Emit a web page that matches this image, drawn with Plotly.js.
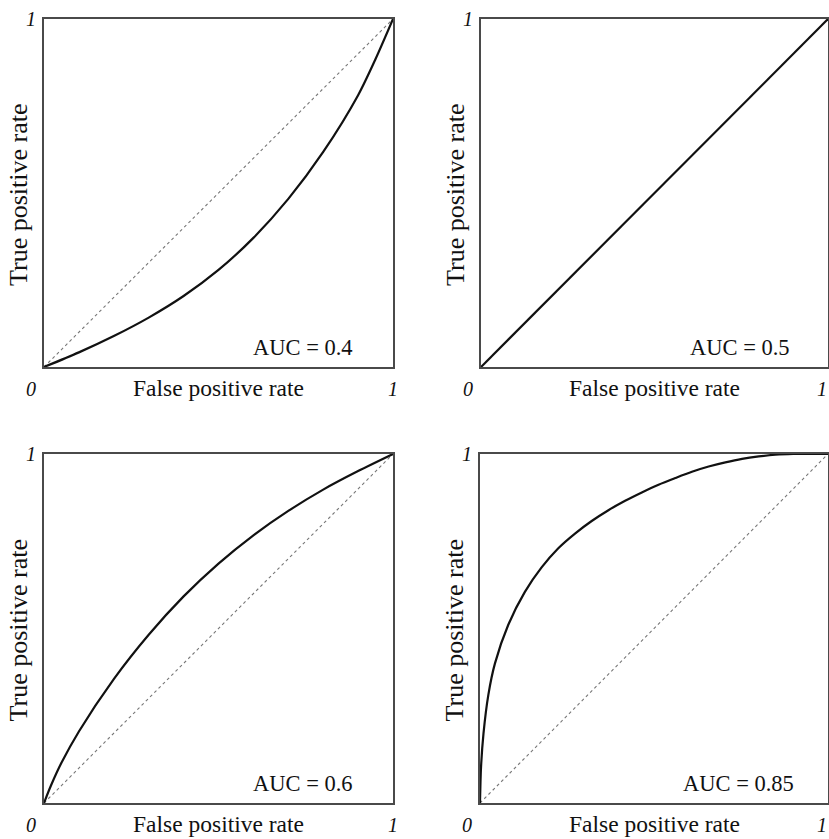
<!DOCTYPE html>
<html>
<head>
<meta charset="utf-8">
<script src="https://cdn.plot.ly/plotly-3.0.1.min.js"></script>
<style>html,body{margin:0;padding:0;background:#fff;}#chart{width:829px;height:839px;}</style>
</head>
<body>
<div id="chart"></div>
<script>
// ROC curve data
const fpr1 = [0, 0.1, 0.2, 0.3, 0.4, 0.5, 0.6, 0.7, 0.8, 0.9, 0.95, 1];
const tpr1 = [0, 0.042, 0.089, 0.142, 0.204, 0.279, 0.371, 0.483, 0.618, 0.781, 0.885, 1];

const fpr2 = [0, 1];
const tpr2 = [0, 1];

const fpr3 = [0, 0.02, 0.05, 0.1, 0.2, 0.3, 0.4, 0.5, 0.6, 0.7, 0.8, 0.9, 1];
const tpr3 = [0, 0.05, 0.115, 0.205, 0.355, 0.482, 0.592, 0.686, 0.767, 0.837, 0.898, 0.951, 1];

const fpr4 = [0, 0.003, 0.010, 0.024, 0.043, 0.081, 0.129, 0.177, 0.225, 0.273, 0.321, 0.369, 0.417, 0.465, 0.513, 0.561, 0.609, 0.657, 0.705, 0.753, 0.801, 0.849, 0.9, 1];
const tpr4 = [0, 0.103, 0.199, 0.310, 0.400, 0.510, 0.605, 0.675, 0.730, 0.772, 0.808, 0.839, 0.866, 0.890, 0.912, 0.931, 0.949, 0.964, 0.976, 0.986, 0.993, 0.998, 1.0, 1];

const chanceX = [0, 1];
const chanceY = [0, 1];

const aucLabels = ["AUC = 0.4", "AUC = 0.5", "AUC = 0.6", "AUC = 0.85"];
const xTitle = "False positive rate";
const yTitle = "True positive rate";
const tickLow = "0";
const tickHigh = "1";

const W = 829, H = 839;
const panels = [
  {x0: 44, x1: 393, y0: 19, y1: 367, aucX: 0.891},
  {x0: 481, x1: 828, y0: 19, y1: 367, aucX: 0.896},
  {x0: 44, x1: 393, y0: 454, y1: 803, aucX: 0.891},
  {x0: 480, x1: 828, y0: 454, y1: 803, aucX: 0.908}
];
const curves = [[fpr1, tpr1], [fpr2, tpr2], [fpr3, tpr3], [fpr4, tpr4]];

const serif = "Liberation Serif, Times New Roman, serif";
const traces = [];
const layout = {
  width: W, height: H,
  margin: {l: 0, r: 0, t: 0, b: 0},
  paper_bgcolor: "#fff", plot_bgcolor: "#fff",
  showlegend: false,
  annotations: []
};

panels.forEach((p, i) => {
  const n = i === 0 ? "" : String(i + 1);
  const xa = "x" + n, ya = "y" + n;
  const axCommon = {
    range: [0, 1], showgrid: false, zeroline: false, showticklabels: false,
    ticks: "", showline: true, mirror: true, linecolor: "#4a4a4a", linewidth: 1.6,
    fixedrange: true
  };
  layout["xaxis" + n] = Object.assign({}, axCommon, {domain: [p.x0 / W, p.x1 / W], anchor: ya});
  layout["yaxis" + n] = Object.assign({}, axCommon, {domain: [1 - p.y1 / H, 1 - p.y0 / H], anchor: xa});

  if (i !== 1) {
    traces.push({x: chanceX, y: chanceY, xaxis: xa, yaxis: ya, mode: "lines",
      line: {color: "#777", width: 1.1, dash: "dot"}, hoverinfo: "skip"});
  }
  traces.push({x: curves[i][0], y: curves[i][1], xaxis: xa, yaxis: ya, mode: "lines",
    line: {color: "#111", width: 2.2, shape: "spline", smoothing: 0.8}, hoverinfo: "skip"});

  const xr = xa + " domain", yr = ya + " domain";
  const tickFont = {family: serif, size: 20, color: "#111"};
  const rightEdge = p.x1 >= 820;
  layout.annotations.push(
    {xref: xr, yref: yr, x: 0, y: 1, text: "<i>" + tickHigh + "</i>", showarrow: false,
      xanchor: "right", yanchor: "middle", xshift: -6, yshift: 0, font: tickFont},
    {xref: xr, yref: yr, x: 0, y: 0, text: "<i>" + tickLow + "</i>", showarrow: false,
      xanchor: "right", yanchor: "middle", xshift: -6, yshift: -22, font: tickFont},
    {xref: xr, yref: yr, x: 1, y: 0, text: "<i>" + tickHigh + "</i>", showarrow: false,
      xanchor: rightEdge ? "right" : "center", yanchor: "middle", xshift: rightEdge ? 1 : 0, yshift: -22, font: tickFont},
    {xref: xr, yref: yr, x: 0.5, y: 0, text: xTitle, showarrow: false,
      xanchor: "center", yanchor: "middle", yshift: -21, font: {family: serif, size: 23.5, color: "#111"}},
    {xref: xr, yref: yr, x: 0, y: 0.5, text: yTitle, showarrow: false, textangle: -90,
      xanchor: "center", yanchor: "middle", xshift: -26, yshift: -2, font: {family: serif, size: 26, color: "#111"}},
    {xref: xr, yref: yr, x: p.aucX, y: 0.055, text: aucLabels[i], showarrow: false,
      xanchor: "right", yanchor: "middle", font: {family: serif, size: 22.5, color: "#111"}}
  );
});

Plotly.newPlot("chart", traces, layout, {staticPlot: true, displayModeBar: false});
</script>
</body>
</html>
